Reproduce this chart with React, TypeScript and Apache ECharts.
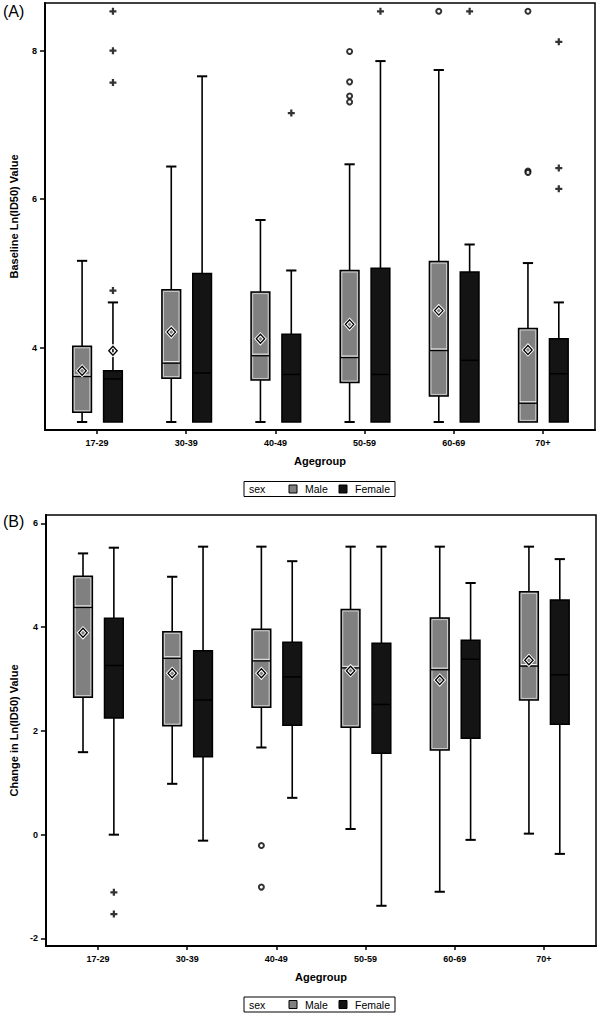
import React, { useEffect, useRef } from "react";
import * as echarts from "echarts";

const categories = ["17-29", "30-39", "40-49", "50-59", "60-69", "70+"];
const categoryIdx = [0, 1, 2, 3, 4, 5];

// [min, q1, median, q3, max]
const baselineMale = [
  [3.0, 3.13, 3.62, 4.02, 5.17],
  [3.0, 3.59, 3.8, 4.78, 6.44],
  [3.0, 3.565, 3.9, 4.75, 5.72],
  [3.0, 3.53, 3.875, 5.04, 6.47],
  [3.0, 3.35, 3.97, 5.16, 7.74],
  [3.0, 3.0, 3.26, 4.26, 5.14],
];
const baselineFemale = [
  [3.0, 3.0, 3.58, 3.69, 4.61],
  [3.0, 3.0, 3.66, 5.0, 7.655],
  [3.0, 3.0, 3.64, 4.18, 5.04],
  [3.0, 3.0, 3.64, 5.07, 7.86],
  [3.0, 3.0, 3.83, 5.02, 5.39],
  [3.0, 3.0, 3.65, 4.12, 4.61],
];
const baselineMaleMean = [3.69, 4.21, 4.12, 4.315, 4.5, 3.97];
const baselineFemaleMean = [3.96, null, null, null, null, null];
const baselineMaleOutliers = [
  [3, 7.99], [3, 7.58], [3, 7.39], [3, 7.31],
  [4, 8.53],
  [5, 8.53], [5, 6.38], [5, 6.36],
];
const baselineFemaleOutliers = [
  [0, 8.53], [0, 8.0], [0, 7.57], [0, 4.77],
  [2, 7.16],
  [3, 8.53],
  [4, 8.53],
  [5, 8.12], [5, 6.42], [5, 6.14],
];
const baselineTicks = [4, 6, 8];

const changeMale = [
  [1.59, 2.65, 4.39, 4.98, 5.42],
  [0.98, 2.1, 3.41, 3.91, 4.97],
  [1.68, 2.455, 3.36, 3.96, 5.55],
  [0.11, 2.07, 3.225, 4.34, 5.55],
  [-1.1, 1.63, 3.19, 4.175, 5.55],
  [0.02, 2.595, 3.26, 4.68, 5.55],
];
const changeFemale = [
  [0.0, 2.25, 3.26, 4.17, 5.53],
  [-0.115, 1.5, 2.595, 3.545, 5.55],
  [0.71, 2.11, 3.04, 3.71, 5.27],
  [-1.37, 1.57, 2.51, 3.69, 5.55],
  [-0.1, 1.86, 3.38, 3.745, 4.85],
  [-0.37, 2.13, 3.08, 4.52, 5.31],
];
const changeMaleMean = [3.89, 3.11, 3.11, 3.16, 2.98, 3.36];
const changeFemaleMean = [null, null, null, null, null, null];
const changeMaleOutliers = [[2, -0.21], [2, -1.01]];
const changeFemaleOutliers = [[0, -1.11], [0, -1.53]];
const changeTicks = [-2, 0, 2, 4, 6];

const FONT = "'Liberation Sans', Arial, Helvetica, sans-serif";
const MALE_OFF = -0.168;
const FEMALE_OFF = 0.178;
const BOX_W = 0.21;
const CAP_W = 0.115;
const MALE_FILL = "#808080";
const FEMALE_FILL = "#141414";
const PLUS = "path://M3.4,0H6.6V3.4H10V6.6H6.6V10H3.4V6.6H0V3.4H3.4Z";

function makeRender(isMale: boolean, means: (number | null)[]) {
  const off = isMale ? MALE_OFF : FEMALE_OFF;
  return (params: any, api: any) => {
    const idx = api.value(0);
    const vMin = api.value(1);
    const vQ1 = api.value(2);
    const vMed = api.value(3);
    const vQ3 = api.value(4);
    const vMax = api.value(5);
    const x = idx + off;
    const cx = api.coord([x, vMed])[0];
    const y = (v: number) => api.coord([x, v])[1];
    const hw = api.size([BOX_W, 0])[0] / 2;
    const cw = api.size([CAP_W, 0])[0] / 2;
    const line = { stroke: "#000", lineWidth: 1.6 };
    const children: any[] = [];
    if (vMax > vQ3) {
      children.push({ type: "line", shape: { x1: cx, y1: y(vQ3), x2: cx, y2: y(vMax) }, style: line });
      children.push({ type: "line", shape: { x1: cx - cw, y1: y(vMax), x2: cx + cw, y2: y(vMax) }, style: { stroke: "#000", lineWidth: 2 } });
    }
    if (vMin < vQ1) {
      children.push({ type: "line", shape: { x1: cx, y1: y(vQ1), x2: cx, y2: y(vMin) }, style: line });
      children.push({ type: "line", shape: { x1: cx - cw, y1: y(vMin), x2: cx + cw, y2: y(vMin) }, style: { stroke: "#000", lineWidth: 2 } });
    }
    const top = y(vQ3);
    const bot = y(vQ1);
    children.push({
      type: "rect",
      shape: { x: cx - hw, y: top, width: hw * 2, height: bot - top },
      style: { fill: isMale ? MALE_FILL : FEMALE_FILL, stroke: "#000", lineWidth: 1.5 },
    });
    const ym = y(vMed);
    if (isMale) {
      children.push({
        type: "rect",
        shape: { x: cx - hw + 1.6, y: top + 1.6, width: hw * 2 - 3.2, height: bot - top - 3.2 },
        style: { fill: "none", stroke: "rgba(255,255,255,0.75)", lineWidth: 0.8 },
      });
      children.push({ type: "line", shape: { x1: cx - hw, y1: ym + 0.6, x2: cx + hw, y2: ym + 0.6 }, style: { stroke: "#000", lineWidth: 1.3 } });
      children.push({ type: "line", shape: { x1: cx - hw + 1.5, y1: ym - 1, x2: cx + hw - 1.5, y2: ym - 1 }, style: { stroke: "#f0f0f0", lineWidth: 1 } });
    } else {
      children.push({ type: "line", shape: { x1: cx - hw, y1: ym, x2: cx + hw, y2: ym }, style: { stroke: "#000", lineWidth: 1.5 } });
    }
    const mean = means[params.dataIndex];
    if (mean != null) {
      const my = y(mean);
      const pts = [[cx, my - 4.5], [cx + 4.2, my], [cx, my + 4.5], [cx - 4.2, my]];
      children.push({ type: "polygon", shape: { points: pts }, style: { fill: "none", stroke: "#fff", lineWidth: 3.2 } });
      children.push({ type: "polygon", shape: { points: pts }, style: { fill: "none", stroke: "#000", lineWidth: 1.3 } });
    }
    return { type: "group", children };
  };
}

function boxData(rows: number[][]) {
  return rows.map((r, i) => [categoryIdx[i], ...r]);
}
function outlierData(pts: number[][], off: number) {
  return pts.map((p) => [p[0] + off, p[1]]);
}

function xAxisCfg(gridIndex: number) {
  return {
    type: "value",
    gridIndex,
    min: -0.584,
    max: 5.584,
    axisLine: { show: true, onZero: false, lineStyle: { color: "#000", width: 2 } },
    axisTick: { show: true, customValues: categoryIdx, length: 4, lineStyle: { color: "#000", width: 1.5 } },
    axisLabel: {
      customValues: categoryIdx,
      formatter: (v: number) => categories[Math.round(v)] ?? "",
      fontSize: 9,
      fontWeight: "bold",
      color: "#000",
      fontFamily: FONT,
      margin: 8,
    },
    splitLine: { show: false },
    name: "Agegroup",
    nameLocation: "middle",
    nameGap: 25,
    nameTextStyle: { fontSize: 11, fontWeight: "bold", color: "#000", fontFamily: FONT },
  };
}

function yAxisCfg(gridIndex: number, min: number, max: number, ticks: number[], name: string) {
  return {
    type: "value",
    gridIndex,
    min,
    max,
    axisLine: { show: true, onZero: false, lineStyle: { color: "#000", width: 2 } },
    axisTick: { show: true, customValues: ticks, length: 5, lineStyle: { color: "#000", width: 1.5 } },
    axisLabel: {
      customValues: ticks,
      fontSize: 9,
      fontWeight: "bold",
      color: "#000",
      fontFamily: FONT,
      margin: 8,
    },
    splitLine: { show: false },
    name,
    nameLocation: "middle",
    nameGap: 26,
    nameTextStyle: { fontSize: 11, fontWeight: "bold", color: "#000", fontFamily: FONT },
  };
}

function legend(top: number) {
  const left = 244;
  const h = 15;
  const ts = { fontSize: 10.5, fontFamily: FONT, fill: "#000", verticalAlign: "middle" };
  return {
    type: "group",
    children: [
      { type: "rect", shape: { x: left, y: top, width: 151, height: h }, style: { fill: "#fff", stroke: "#000", lineWidth: 1 } },
      { type: "text", x: left + 5, y: top + h / 2, style: { ...ts, text: "sex" } },
      { type: "rect", shape: { x: left + 45, y: top + 3.5, width: 8, height: 8 }, style: { fill: MALE_FILL, stroke: "#000", lineWidth: 1 } },
      { type: "text", x: left + 61, y: top + h / 2, style: { ...ts, text: "Male" } },
      { type: "rect", shape: { x: left + 95, y: top + 3.5, width: 8, height: 8 }, style: { fill: FEMALE_FILL, stroke: "#000", lineWidth: 1 } },
      { type: "text", x: left + 111, y: top + h / 2, style: { ...ts, text: "Female" } },
    ],
  };
}

export default function App() {
  const ref = useRef<HTMLDivElement>(null);
  useEffect(() => {
    if (!ref.current) return;
    const chart = echarts.init(ref.current, undefined, { renderer: "svg" });
    const option: any = {
      animation: false,
      backgroundColor: "#fff",
      grid: [
        { left: 43, top: 3, width: 552, height: 427, show: true, borderColor: "#000", borderWidth: 1.5, backgroundColor: "transparent" },
        { left: 43, top: 515, width: 553, height: 431, show: true, borderColor: "#000", borderWidth: 1.5, backgroundColor: "transparent" },
      ],
      xAxis: [xAxisCfg(0), xAxisCfg(1)],
      yAxis: [
        yAxisCfg(0, 2.892, 8.642, baselineTicks, "Baseline Ln(ID50) Value"),
        yAxisCfg(1, -2.145, 6.16, changeTicks, "Change in Ln(ID50) Value"),
      ],
      series: [
        { type: "custom", name: "Male", xAxisIndex: 0, yAxisIndex: 0, data: boxData(baselineMale), encode: { x: 0, y: [1, 2, 3, 4, 5] }, renderItem: makeRender(true, baselineMaleMean) },
        { type: "custom", name: "Female", xAxisIndex: 0, yAxisIndex: 0, data: boxData(baselineFemale), encode: { x: 0, y: [1, 2, 3, 4, 5] }, renderItem: makeRender(false, baselineFemaleMean) },
        { type: "scatter", xAxisIndex: 0, yAxisIndex: 0, data: outlierData(baselineMaleOutliers, MALE_OFF), symbol: "emptyCircle", symbolSize: 5, itemStyle: { color: "#000", borderWidth: 1.4 } },
        { type: "scatter", xAxisIndex: 0, yAxisIndex: 0, data: outlierData(baselineFemaleOutliers, FEMALE_OFF), symbol: PLUS, symbolSize: 7, itemStyle: { color: "#000" } },
        { type: "custom", name: "Male", xAxisIndex: 1, yAxisIndex: 1, data: boxData(changeMale), encode: { x: 0, y: [1, 2, 3, 4, 5] }, renderItem: makeRender(true, changeMaleMean) },
        { type: "custom", name: "Female", xAxisIndex: 1, yAxisIndex: 1, data: boxData(changeFemale), encode: { x: 0, y: [1, 2, 3, 4, 5] }, renderItem: makeRender(false, changeFemaleMean) },
        { type: "scatter", xAxisIndex: 1, yAxisIndex: 1, data: outlierData(changeMaleOutliers, MALE_OFF), symbol: "emptyCircle", symbolSize: 5, itemStyle: { color: "#000", borderWidth: 1.4 } },
        { type: "scatter", xAxisIndex: 1, yAxisIndex: 1, data: outlierData(changeFemaleOutliers, FEMALE_OFF), symbol: PLUS, symbolSize: 7, itemStyle: { color: "#000" } },
      ],
      graphic: [
        { type: "text", x: 3, y: 11, style: { text: "(A)", fontSize: 16, fontFamily: FONT, fill: "#000", verticalAlign: "middle" } },
        { type: "text", x: 3, y: 521, style: { text: "(B)", fontSize: 16, fontFamily: FONT, fill: "#000", verticalAlign: "middle" } },
        legend(481.5),
        legend(997),
      ],
    };
    chart.setOption(option);
    return () => chart.dispose();
  }, []);
  return <div ref={ref} style={{ position: "absolute", left: 0, top: 0, width: 600, height: 1016 }} />;
}
